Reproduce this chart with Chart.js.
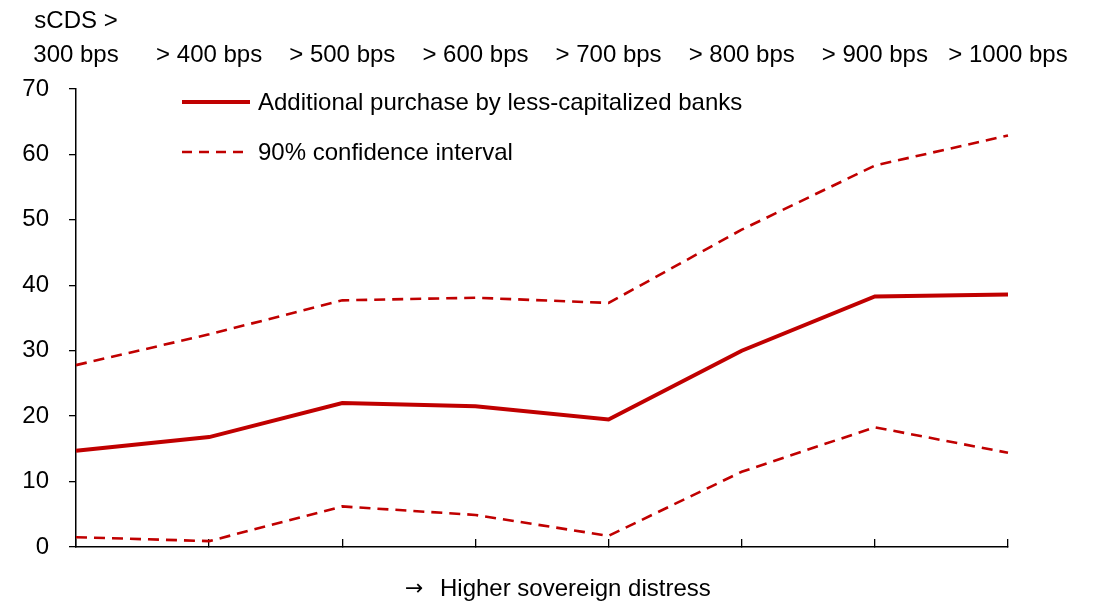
<!DOCTYPE html>
<html>
<head>
<meta charset="utf-8">
<script src="https://cdn.jsdelivr.net/npm/chart.js@4"></script>
<style>
  html, body { margin: 0; padding: 0; background: #fff; }
  #wrap { width: 1097px; height: 606px; }
</style>
</head>
<body>
<div id="wrap"><canvas id="chart"></canvas></div>
<script>
// categories (sovereign CDS thresholds)
const categories = ['300', '400', '500', '600', '700', '800', '900', '1000'];
const topLabels = [['sCDS >', '300 bps'], '> 400 bps', '> 500 bps', '> 600 bps',
                   '> 700 bps', '> 800 bps', '> 900 bps', '> 1000 bps'];
const yTicks = [0, 10, 20, 30, 40, 50, 60, 70];

// series values
const purchase = [14.7, 16.8, 22.0, 21.5, 19.5, 30.0, 38.3, 38.6];
const upperCI  = [27.8, 32.5, 37.7, 38.1, 37.3, 48.5, 58.3, 62.9];
const lowerCI  = [1.5, 0.9, 6.2, 4.9, 1.7, 11.5, 18.3, 14.4];

const RED = '#C00000';
const FONT = "'Liberation Sans', Arial, sans-serif";

// legend drawn inside chart area (two entries, CI covers both bounds)
const legendPlugin = {
    id: 'innerLegend',
    afterDraw(chart) {
        const ctx = chart.ctx;
        const area = chart.chartArea;
        const x0 = area.left + 106;
        const rows = [
            { text: 'Additional purchase by less-capitalized banks', width: 4, dash: [] },
            { text: '90% confidence interval', width: 2.6, dash: [10, 7] }
        ];
        ctx.save();
        ctx.font = '24px ' + FONT;
        ctx.textBaseline = 'middle';
        ctx.fillStyle = '#000';
        rows.forEach((r, i) => {
            const y = area.top + 13 + i * 50;
            ctx.strokeStyle = RED;
            ctx.lineWidth = r.width;
            ctx.setLineDash(r.dash);
            ctx.beginPath();
            ctx.moveTo(x0, y);
            ctx.lineTo(x0 + 68, y);
            ctx.stroke();
            ctx.setLineDash([]);
            ctx.fillText(r.text, x0 + 76, y + 1);
        });
        // axis caption below the x axis (arrow in DejaVu for a bigger glyph)
        const cy = area.bottom + 42;
        ctx.textAlign = 'left';
        ctx.font = '22px "DejaVu Sans", sans-serif';
        ctx.fillText('\u2192', 405, cy);
        ctx.font = '24px ' + FONT;
        ctx.fillText('Higher sovereign distress', 440, cy);
        ctx.restore();
    }
};

new Chart(document.getElementById('chart'), {
    type: 'line',
    data: {
        labels: categories,
        datasets: [
            { label: 'Additional purchase by less-capitalized banks', data: purchase,
              borderColor: RED, borderWidth: 4, pointRadius: 0, tension: 0 },
            { label: '90% confidence interval', data: upperCI,
              borderColor: RED, borderWidth: 2.6, borderDash: [11, 7], pointRadius: 0, tension: 0 },
            { label: '90% confidence interval (lower)', data: lowerCI,
              borderColor: RED, borderWidth: 2.6, borderDash: [11, 7], pointRadius: 0, tension: 0 }
        ]
    },
    options: {
        responsive: true,
        maintainAspectRatio: false,
        animation: false,
        layout: { padding: { left: 0, right: 89, top: 0, bottom: 0 } },
        plugins: { legend: { display: false }, tooltip: { enabled: false } },
        scales: {
            x: {
                type: 'category',
                position: 'bottom',
                offset: false,
                grid: { drawOnChartArea: false, drawTicks: true, tickLength: -8, color: '#000', lineWidth: 1.3 },
                border: { color: '#000', width: 1.5 },
                ticks: { display: false },
                afterFit(scale) { scale.height = 59; }
            },
            x2: {
                type: 'category',
                position: 'top',
                labels: topLabels,
                offset: false,
                grid: { display: false },
                border: { display: false },
                ticks: {
                    color: '#000', font: { family: FONT, size: 24, lineHeight: 1.42 },
                    padding: 9, maxRotation: 0, autoSkip: false
                },
                afterFit(scale) { scale.height = 89; }
            },
            y: {
                min: 0, max: 70,
                afterBuildTicks(scale) { scale.ticks = yTicks.map(v => ({ value: v })); },
                grid: { drawOnChartArea: false, drawTicks: true, tickLength: 7, color: '#000', lineWidth: 1.3 },
                border: { color: '#000', width: 1.5 },
                ticks: { color: '#000', font: { family: FONT, size: 24 }, padding: 20 },
                afterFit(scale) { scale.width = 76; }
            }
        }
    },
    plugins: [legendPlugin]
});
</script>
</body>
</html>
